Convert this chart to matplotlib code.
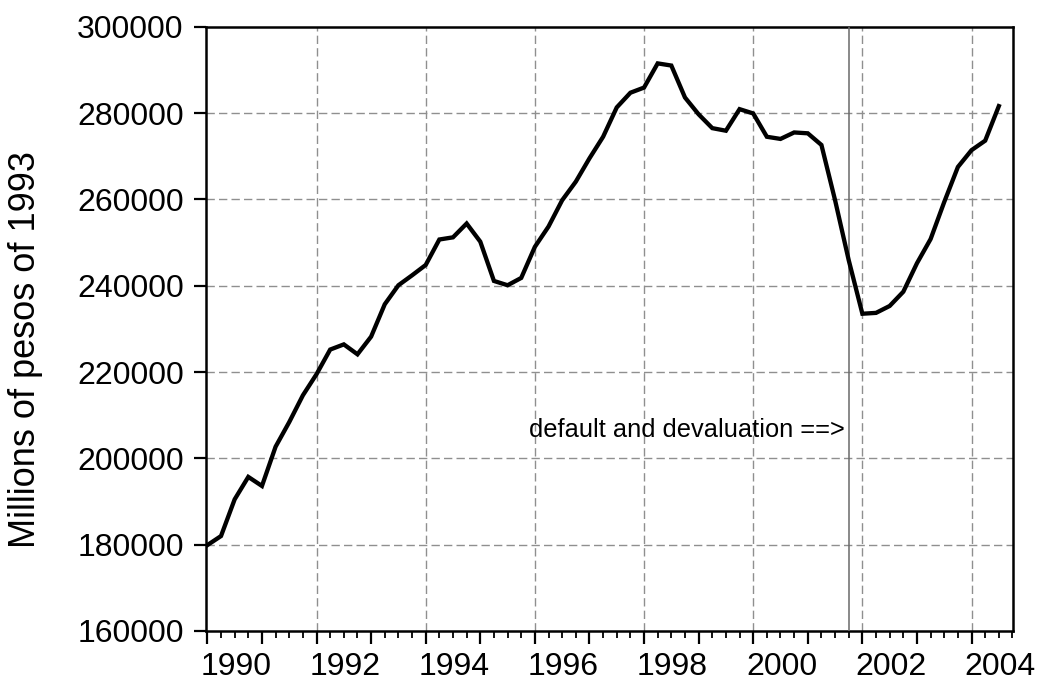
import matplotlib
matplotlib.use("Agg")
import matplotlib.pyplot as plt
import matplotlib.transforms as mtransforms
from matplotlib.ticker import MultipleLocator, FuncFormatter

plt.rcParams['font.family'] = ['Liberation Sans', 'DejaVu Sans']

# Quarterly GDP, 1990Q1 - 2004Q3 (millions of pesos of 1993)
start_year = 1990
gdp = [
    179900, 182000, 190500, 195700, 193600, 202700, 208400, 214600,
    219500, 225200, 226400, 224100, 228200, 235700, 240100, 242400,
    244800, 250700, 251200, 254400, 250200, 241100, 240100, 241800,
    249000, 253700, 259800, 264100, 269500, 274500, 281300, 284700,
    285900, 291500, 291000, 283600, 279700, 276500, 275900, 280900,
    279900, 274500, 274000, 275500, 275300, 272600, 259800, 245900,
    233500, 233700, 235300, 238600, 245200, 250800, 259400, 267500,
    271400, 273600, 281600,
]
quarters = [start_year + i / 4 for i in range(len(gdp))]
default_date = 2001.75
annotation = "default and devaluation ==>"
ylabel = "Millions of pesos of 1993"

W, H = 1039, 684
fig = plt.figure(figsize=(W / 100, H / 100), dpi=100)
ax = fig.add_axes([206 / W, 1 - 631 / H, (1013.3 - 206) / W, (631 - 26.7) / H])

ax.plot(quarters, gdp, color='black', lw=3.1, solid_joinstyle='miter', zorder=4)
ax.axvline(default_date, color='#6a6a6a', lw=1.1, zorder=3)

ax.set_xlim(1989.975, 2004.765)
ax.set_ylim(160000, 300000)

ax.xaxis.set_major_locator(MultipleLocator(1))
ax.xaxis.set_minor_locator(MultipleLocator(0.25))
ax.xaxis.set_major_formatter(FuncFormatter(
    lambda v, p: f"{int(round(v))}" if int(round(v)) % 2 == 0 else ""))
ax.yaxis.set_major_locator(MultipleLocator(20000))
ax.yaxis.set_major_formatter(FuncFormatter(lambda v, p: f"{int(v)}"))

ax.tick_params(axis='both', which='major', direction='out', length=9,
               width=1.6, labelsize=23, color='black')
ax.tick_params(axis='x', which='minor', direction='out', length=5, width=1.3)
ax.tick_params(axis='y', pad=7)
ax.tick_params(axis='x', pad=6)

for lab in ax.get_xticklabels():
    lab.set_horizontalalignment('left')
    lab.set_transform(lab.get_transform() +
                      mtransforms.ScaledTranslation(-7 / 100, 0, fig.dpi_scale_trans))

# grid at even years and every 20000
for yv in range(180000, 300000, 20000):
    ax.axhline(yv, color='#8f8f8f', lw=1.0, ls=(0, (6, 3)), zorder=1)
for xv in range(1992, 2005, 2):
    ax.axvline(xv, color='#8f8f8f', lw=1.0, ls=(0, (6, 3)), zorder=1)

for s in ax.spines.values():
    s.set_linewidth(1.8)
    s.set_color('black')

ax.text(2001.685, 206500, annotation, ha='right', va='center', fontsize=18.3)

fig.text(26 / W, 1 - 350 / H, ylabel, rotation=90, ha='center', va='center',
         fontsize=26)

fig.savefig("out.png", dpi=100)
